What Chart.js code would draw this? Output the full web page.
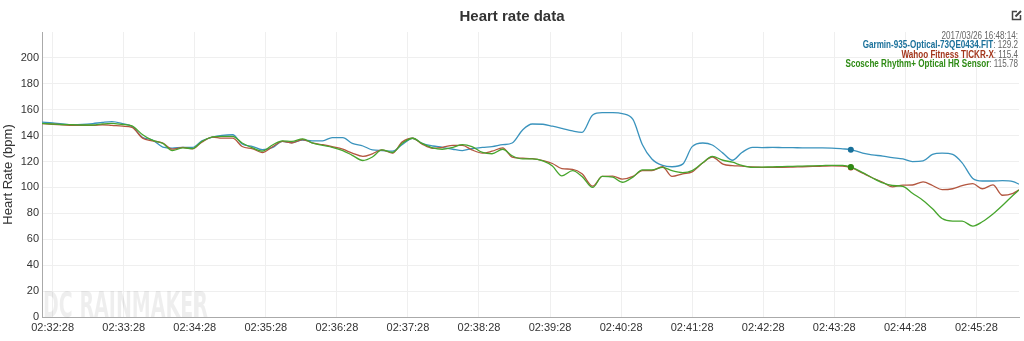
<!DOCTYPE html>
<html>
<head>
<meta charset="utf-8">
<title>Heart rate data</title>
<script src="https://cdn.jsdelivr.net/npm/chart.js@4.4.1/dist/chart.umd.min.js"></script>
<style>
  html, body { margin: 0; padding: 0; background: #fff; }
</style>
</head>
<body>
<canvas id="hr" width="1024" height="341"></canvas>
<script>
// Seconds after 02:32:28 for each sample
const secs = [-9, 0, 8, 17, 25, 34, 42, 50, 59, 67,
  76, 84, 93, 101, 110, 118, 126, 135, 143, 152,
  160, 169, 177, 186, 194, 202, 211, 219, 228, 236,
  245, 253, 262, 270, 278, 287, 295, 304, 312, 321,
  329, 338, 346, 354, 363, 371, 380, 388, 397, 405,
  414, 422, 430, 439, 447, 456, 464, 473, 481, 490,
  498, 506, 515, 523, 532, 540, 549, 557, 566, 574,
  582, 591, 599, 608, 616, 625, 633, 642, 650, 658,
  667, 674,
  684, 692, 701, 709, 718, 726, 735, 743, 751, 760,
  768, 777, 785, 794, 802, 811, 816];

const garmin = [150.5, 149.8, 149, 148.4, 148.6, 149.3, 150.2, 150.8, 149.3, 147.1,
  138.6, 136.8, 131.2, 130.4, 130.9, 130.9, 136, 138.9, 140.2, 140.7,
  133.5, 131.6, 129.1, 130.9, 135.5, 134.7, 136.5, 136, 136, 138.5,
  138.5, 134, 132, 129, 128.5, 128, 133, 138, 134, 132,
  131, 129.5, 128.5, 130, 131, 131.5, 133, 134.3, 144.6, 149,
  148.8, 147.3, 145.6, 143.6, 142.5, 156, 157.7, 157.7, 157, 152.5,
  133, 122, 117, 116, 118, 131.5, 134.3, 132.8, 126.5, 121,
  127, 131, 130.8, 130.9, 130.8, 130.7, 130.6, 130.5, 130.5, 130.4,
  129.8, 129.2,
  126.5, 125.2, 124.2, 123, 122, 120, 120.5, 125.5, 126.5, 125.5,
  119, 107, 105, 105, 105.2, 104.5, 102.5];

const wahoo = [149.2, 148.8, 148.4, 147.9, 147.9, 147.9, 148.4, 147.9, 147.3, 146.4,
  138.1, 136, 134.3, 129.6, 130.9, 129.8, 135, 138.9, 138.1, 138.1,
  131.6, 129.8, 127, 131.6, 135.5, 134.3, 137, 134.5, 133, 131.5,
  129.5, 126.5, 124, 126, 129, 126.5, 135, 138, 133.5, 130.2,
  131, 132.5, 132.5, 129, 126.5, 128, 130.5, 123.5, 122.6, 122.2,
  120.7, 118.5, 114.5, 114, 110.5, 101, 108.5, 108.8, 106.4, 108.5,
  113, 113, 116, 108.5, 110.5, 112, 119, 123.5, 118, 116.8,
  116.5, 115.8, 115.5, 115.5, 115.6, 115.8, 116, 116.2, 116.4, 116.6,
  116.5, 115.4,
  111, 107.5, 104, 100.5, 101.8, 101.9, 104.3, 101.5, 98.3, 99,
  101.5, 103, 99, 102, 94, 95.5, 98.1];

const scosche = [149.5, 149, 148.6, 148.4, 148.2, 148.2, 149, 149.5, 148.6, 147.5,
  140.7, 136.5, 134, 128.5, 130.5, 130, 135.5, 139, 139.5, 139.5,
  134.3, 130.5, 128, 133, 136, 135.5, 137.5, 134.5, 132.5, 131,
  128.5, 124.8, 120.8, 123.5, 129, 127, 134, 138, 134, 130.5,
  129.5, 131, 133, 131.5, 127, 126, 129.5, 124.5, 122, 122,
  120.5, 116.5, 109, 113, 108.5, 100, 108.5, 108, 104, 108,
  113.6, 113.6, 115.5, 113, 111.5, 113, 119, 124, 121, 119.5,
  117, 115.5, 115.7, 115.9, 116.1, 116.3, 116.5, 116.7, 116.9, 117.1,
  117, 115.78,
  111.5, 107.5, 103.5, 101.5, 100.8, 95.5, 90, 83.5, 76, 74,
  74, 70.2, 73.5, 79.5, 86, 94, 98.1];

const seriesNames = ['Garmin-935-Optical-73QE0434.FIT', 'Wahoo Fitness TICKR-X', 'Scosche Rhythm+ Optical HR Sensor'];
const lineColors = ['#3a93bd', '#b3563f', '#47a52d'];
const labelColors = ['#19709a', '#a3361c', '#2e8b14'];

const startClock = 2 * 3600 + 32 * 60 + 28;   // 02:32:28
const hoverStamp = '2017/03/26 16:48:14:';
const hoverIdx = secs.indexOf(674);

function clock(s) {
  const t = startClock + s;
  const pad = n => String(n).padStart(2, '0');
  return pad(Math.floor(t / 3600)) + ':' + pad(Math.floor(t / 60) % 60) + ':' + pad(t % 60);
}

function toPoints(vals) {
  return vals.map((v, i) => ({ x: secs[i], y: v }));
}

Chart.defaults.font.family = "'Liberation Sans', Arial, sans-serif";

// faint site watermark in the lower-left corner
const watermark = {
  id: 'watermark',
  beforeDatasetsDraw(chart) {
    const ctx = chart.ctx;
    ctx.save();
    ctx.font = "bold 35px 'Liberation Sans Narrow', 'DejaVu Sans Condensed', sans-serif";
    const w = ctx.measureText('DC RAINMAKER').width;
    ctx.translate(43, 317);
    ctx.scale(165 / w, 1);
    ctx.fillStyle = 'rgba(0,0,0,0.065)';
    ctx.textBaseline = 'alphabetic';
    ctx.fillText('DC RAINMAKER', 0, 0);
    ctx.restore();
  }
};

// title, hover readout and the edit icon
const header = {
  id: 'header',
  afterDraw(chart) {
    const ctx = chart.ctx;
    ctx.save();
    ctx.fillStyle = '#333';
    ctx.font = "bold 15px 'Liberation Sans', Arial, sans-serif";
    ctx.textAlign = 'center';
    ctx.textBaseline = 'middle';
    ctx.fillText('Heart rate data', 512, 17);

    // readout lines, right aligned, set in a condensed width
    ctx.save();
    ctx.translate(1018, 0);
    ctx.scale(0.81, 1);
    ctx.textAlign = 'right';
    ctx.font = "10px 'Liberation Sans', Arial, sans-serif";
    ctx.fillStyle = '#666';
    ctx.fillText(hoverStamp, 0, 36);
    [garmin, wahoo, scosche].forEach((arr, k) => {
      const y = 45 + k * 9.8;
      const tail = ': ' + arr[hoverIdx];
      ctx.font = "10px 'Liberation Sans', Arial, sans-serif";
      ctx.fillStyle = '#666';
      ctx.fillText(tail, 0, y);
      const tw = ctx.measureText(tail).width;
      ctx.font = "bold 10px 'Liberation Sans', Arial, sans-serif";
      ctx.fillStyle = labelColors[k];
      ctx.fillText(seriesNames[k], -tw, y);
    });
    ctx.restore();

    // edit icon
    ctx.strokeStyle = '#444';
    ctx.lineWidth = 1.5;
    ctx.beginPath();
    ctx.moveTo(1017, 11.5);
    ctx.lineTo(1012.5, 11.5);
    ctx.lineTo(1012.5, 19.5);
    ctx.lineTo(1020.5, 19.5);
    ctx.lineTo(1020.5, 15);
    ctx.stroke();
    ctx.lineWidth = 2;
    ctx.beginPath();
    ctx.moveTo(1015.5, 16.5);
    ctx.lineTo(1021, 11);
    ctx.stroke();
    ctx.restore();
  }
};

function dataset(k, vals, order) {
  return {
    label: seriesNames[k],
    data: toPoints(vals),
    borderColor: lineColors[k],
    backgroundColor: labelColors[k],
    pointBackgroundColor: labelColors[k],
    borderWidth: 1.3,
    cubicInterpolationMode: 'monotone',
    pointRadius: c => (c.dataIndex === hoverIdx ? 3 : 0),
    pointBorderWidth: 0,
    order: order
  };
}

new Chart(document.getElementById('hr'), {
  type: 'line',
  data: {
    datasets: [
      dataset(0, garmin, 2),
      dataset(1, wahoo, 1),
      dataset(2, scosche, 0)
    ]
  },
  options: {
    responsive: false,
    animation: false,
    events: [],
    layout: { padding: { left: 0, right: 5, top: 32, bottom: 0 } },
    plugins: {
      legend: { display: false },
      tooltip: { enabled: false }
    },
    scales: {
      x: {
        type: 'linear',
        min: secs[0],
        max: secs[secs.length - 1],
        afterFit: s => { s.height = 24; },
        border: { color: '#aaa' },
        grid: { color: '#efefef', drawTicks: false },
        ticks: {
          stepSize: 60,
          includeBounds: false,
          maxTicksLimit: 30,
          autoSkip: false,
          maxRotation: 0,
          padding: 4,
          color: '#333',
          font: { size: 11 },
          callback: v => clock(v)
        }
      },
      y: {
        min: 0,
        max: 220,
        afterFit: s => { s.width = 42; },
        afterBuildTicks: s => { s.ticks = s.ticks.filter(t => t.value <= 200); },
        border: { color: '#aaa' },
        grid: { color: '#efefef', drawTicks: false },
        ticks: { stepSize: 20, maxTicksLimit: 30, padding: 3, color: '#333', font: { size: 11 } },
        title: {
          display: true,
          text: 'Heart Rate (bpm)',
          color: '#333',
          font: { size: 13 },
          padding: { top: 1, bottom: 0 }
        }
      }
    }
  },
  plugins: [watermark, header]
});
</script>
</body>
</html>
